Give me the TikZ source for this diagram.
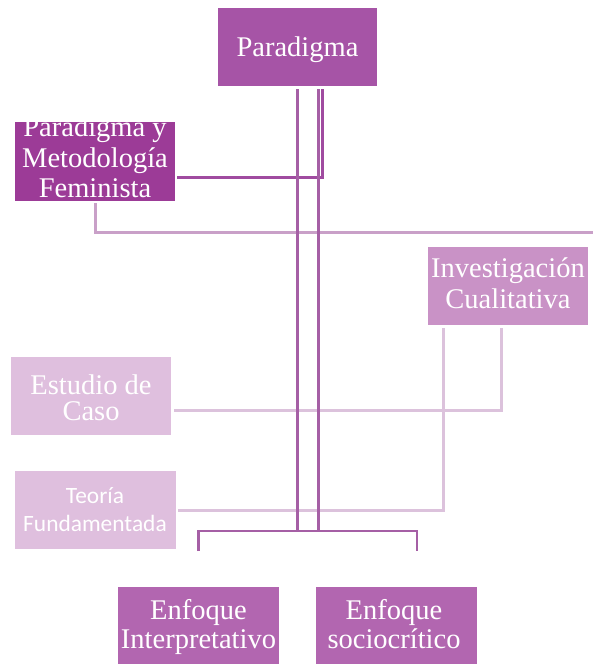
\documentclass[tikz,border=0pt]{standalone}
\usepackage{fontspec}
\setmainfont{Liberation Serif}
\newfontfamily\calfont{Carlito}
\usetikzlibrary{calc}

\definecolor{cPar}{HTML}{A654A6}
\definecolor{cFem}{HTML}{9C3B97}
\definecolor{cInv}{HTML}{C992C6}
\definecolor{cPale}{HTML}{DFBFDE}
\definecolor{cEnf}{HTML}{B266B0}
\definecolor{lMain}{HTML}{A55FA5}
\definecolor{lFem}{HTML}{A04BA0}
\definecolor{lMid}{HTML}{C9A0C8}
\definecolor{lPale}{HTML}{DCC2DC}

% struts that fix the first-line height and last-line depth of a label
\newcommand{\hstrut}{\rule{0pt}{21pt}}
\newcommand{\dstrut}{\rule[-9pt]{0pt}{9pt}}

\tikzset{
  box/.style={rectangle, inner sep=0pt, anchor=north west, draw=none},
  lbl/.style={text=white, align=center, inner sep=0pt},
  serifA/.style={font=\fontsize{28.5}{30.5}\selectfont},
  mainline/.style={draw=lMain, line width=2.6pt},
  femline/.style={draw=lFem, line width=2.6pt},
  midline/.style={draw=lMid, line width=2.6pt},
  paleline/.style={draw=lPale, line width=2.8pt},
}

\begin{document}
\begin{tikzpicture}[x=1pt, y=-1pt]
\clip (0,0) rectangle (593,664);
\fill[white] (0,0) rectangle (593,664);

% boxes
\node[box, fill=cPar,  minimum width=159pt, minimum height=78pt] (par) at (218,8) {};
\node[box, fill=cFem,  minimum width=160pt, minimum height=79pt] (pmf) at (15,122) {};
\node[box, fill=cInv,  minimum width=160pt, minimum height=78pt] (inv) at (428,247) {};
\node[box, fill=cPale, minimum width=160pt, minimum height=78pt] (est) at (11,357) {};
\node[box, fill=cPale, minimum width=161pt, minimum height=78pt] (teo) at (15,471) {};
\node[box, fill=cEnf,  minimum width=161pt, minimum height=90pt] (ei) at (118,587) {};
\node[box, fill=cEnf,  minimum width=161pt, minimum height=90pt] (es) at (316,587) {};

% labels
\node[lbl, serifA] (par-t) at (297.5,50) {\hstrut Paradigma\dstrut};
\begin{scope}
  \clip (pmf.south west) rectangle (pmf.north east);
  \node[lbl, serifA] (pmf-t) at (95,161) {\hstrut Paradigma y\\Metodología\\Feminista\dstrut};
\end{scope}
\node[lbl, serifA, font=\fontsize{28.5}{31}\selectfont] (inv-t) at (508,286.5) {\hstrut Investigación\\Cualitativa\dstrut};
\node[lbl, font=\fontsize{28.5}{26}\selectfont] (est-t) at (91,401) {\hstrut Estudio de\\Caso\dstrut};
\node[lbl, font=\calfont\fontsize{23.4}{28}\selectfont] (teo-t) at (95,511) {\hstrut Teoría\\Fundamentada\dstrut};
\node[lbl, font=\fontsize{28.5}{29}\selectfont] (ei-t) at (198.5,627.5) {\hstrut Enfoque\\Interpretativo\dstrut};
\node[lbl, font=\fontsize{28.5}{29}\selectfont] (es-t) at (394,627.5) {\hstrut Enfoque\\sociocrítico\dstrut};

% junction points of the lower bracket and the open end on the right
\coordinate (brkL) at ([yshift=36pt]ei.north);
\coordinate (brkR) at (417,551);
\coordinate (brkTop) at ([yshift=20pt]brkL);
\coordinate (edgeR) at (595,232.5);

% connectors from Investigación Cualitativa
\draw[paleline] ($(inv.south)+(-7,3)$) |- ($(est.east)+(3,14.5)$);
\draw[paleline] ($(inv.south)+(-65,3)$) |- ($(teo.east)+(2,0)$);

% connector from the feminist box to the right edge
\draw[midline] ($(pmf.south)+(0,2)$) |- (edgeR);

% connectors from Paradigma
\draw[femline] ($(pmf.east)+(2,15.5)$) -| ($(par.south)+(25,3)$);
\draw[mainline] ($(par.south)+(0,3)$) -- (brkTop -| par.south);
\draw[mainline] ($(par.south)+(21,3)$) -- ($(brkTop -| par.south)+(21,0)$);
\draw[mainline] (brkL) -- (brkTop) -| (brkR);
\end{tikzpicture}
\end{document}
